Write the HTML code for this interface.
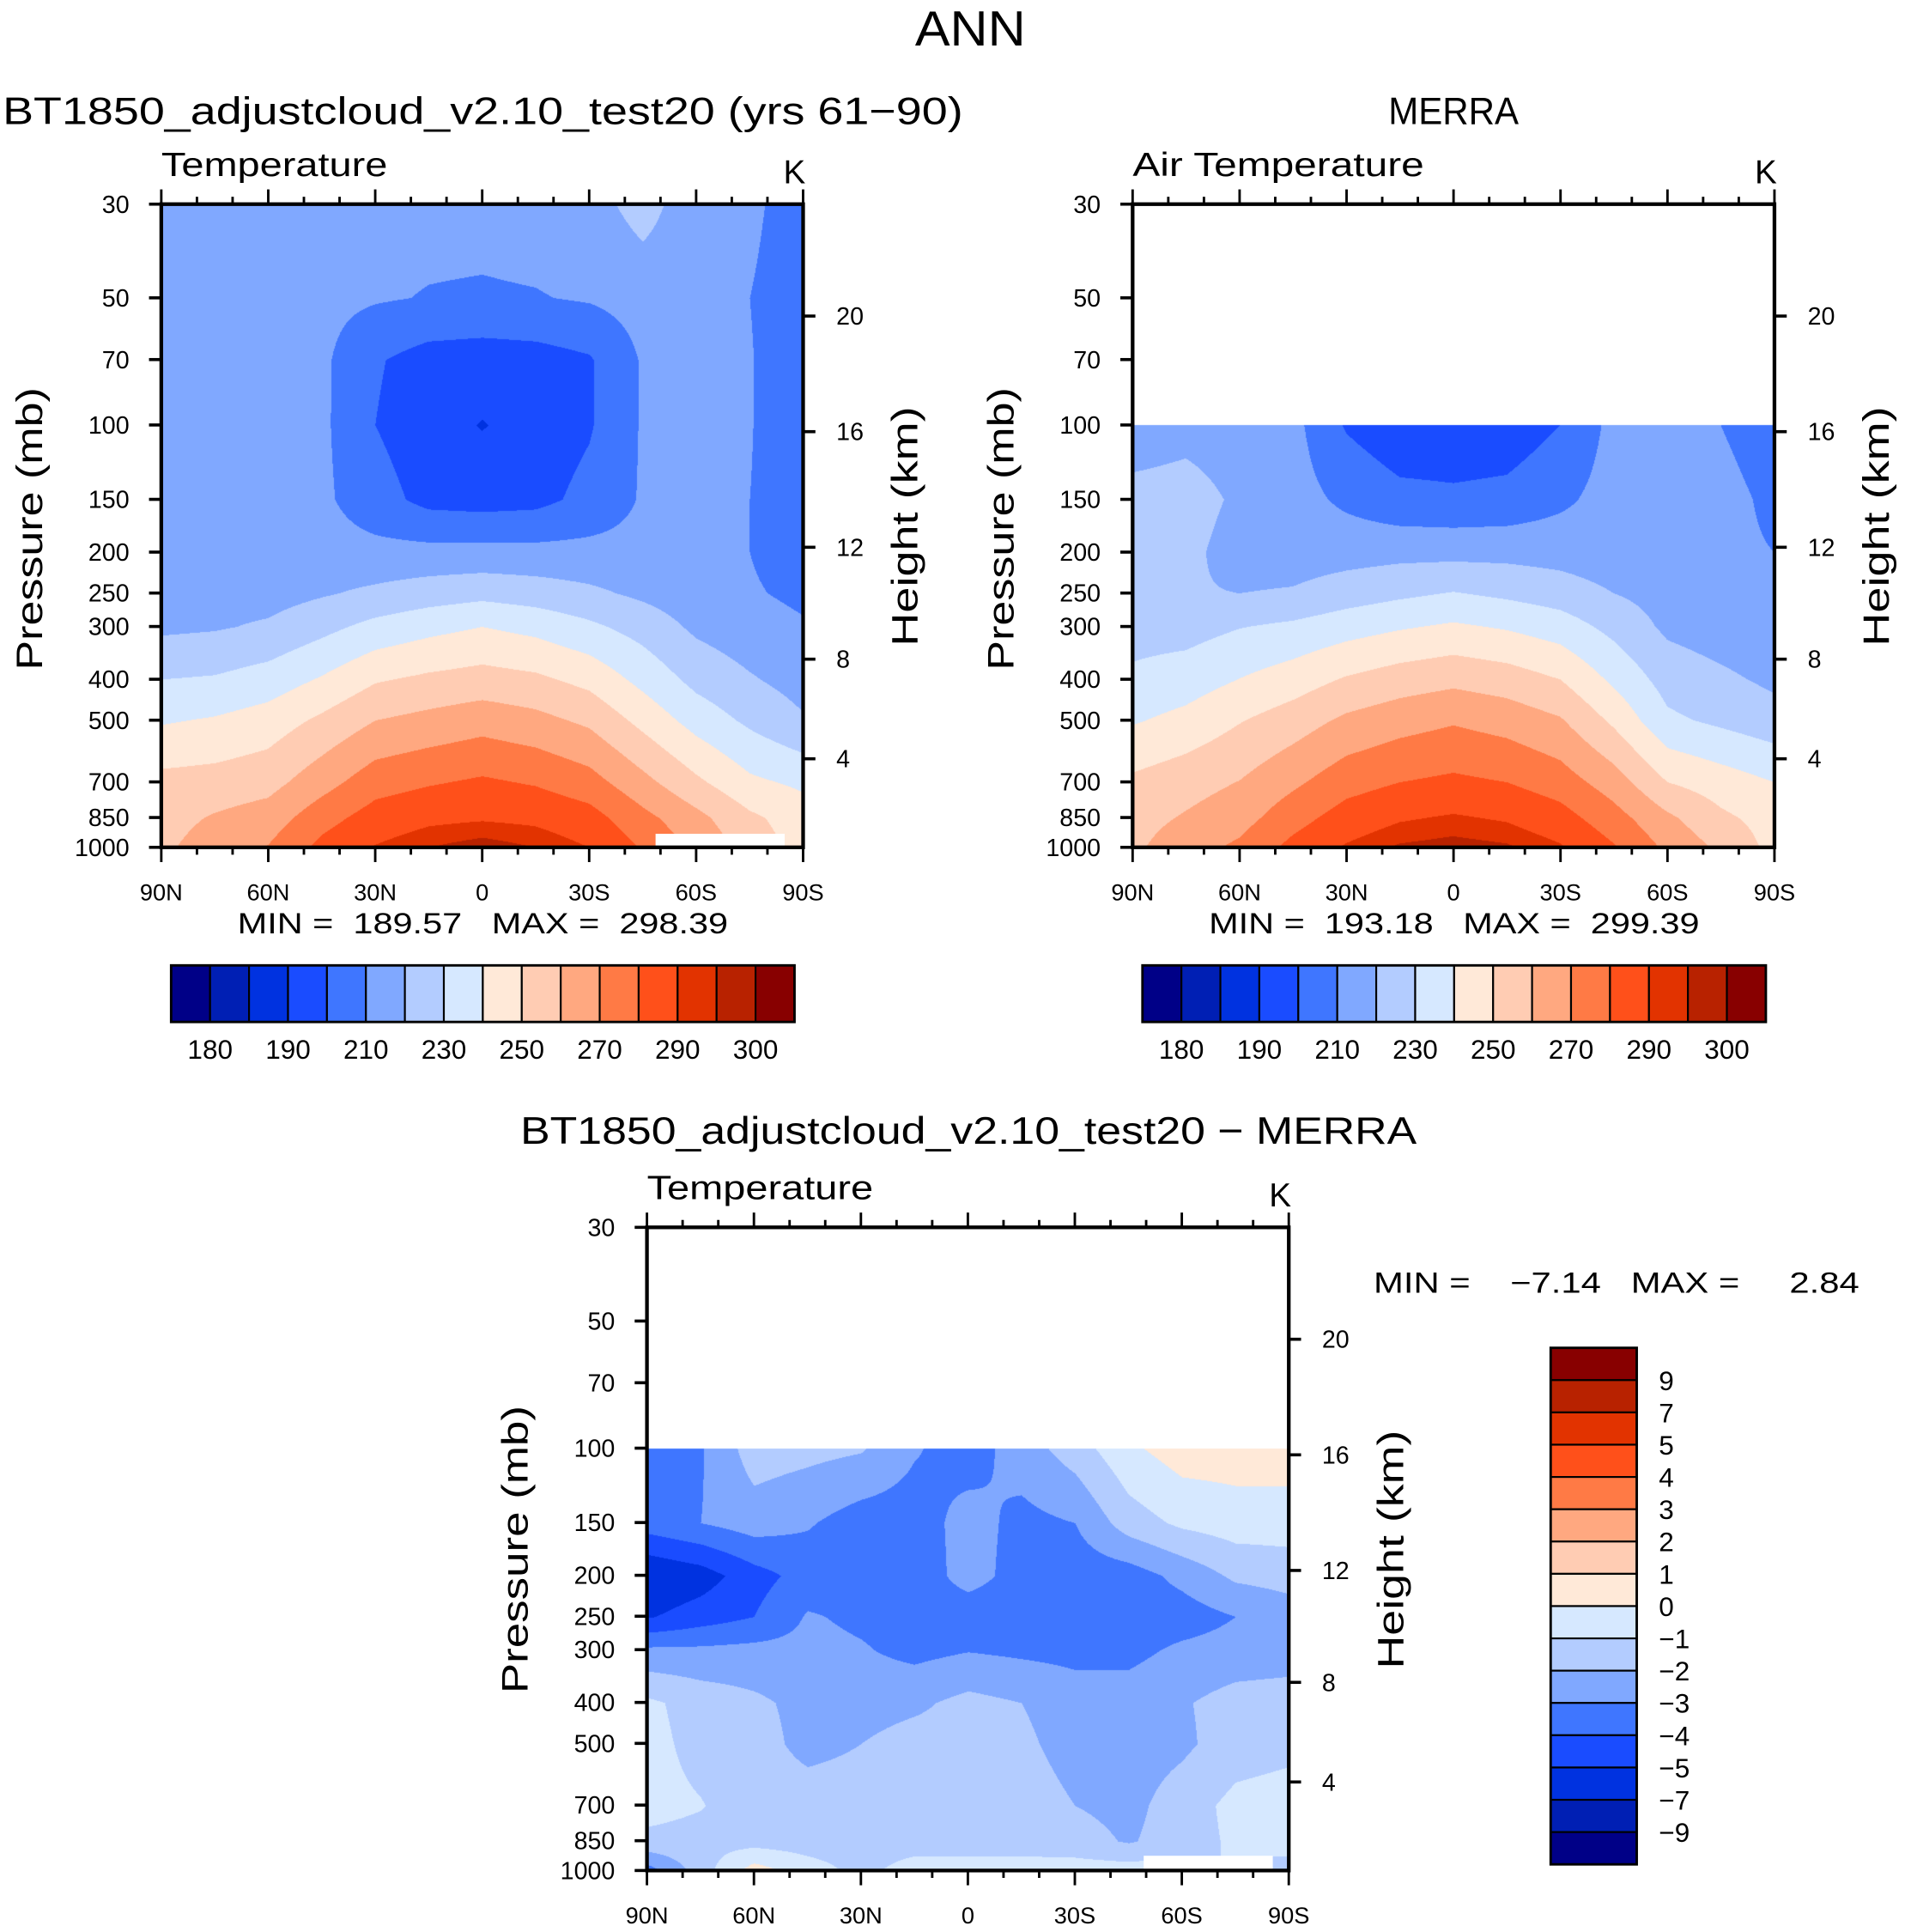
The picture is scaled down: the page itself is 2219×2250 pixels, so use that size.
<!DOCTYPE html>
<html><head><meta charset="utf-8">
<style>
html,body{margin:0;padding:0;background:#fff;}
#root{position:relative;width:2219px;height:2250px;overflow:hidden;background:#fff;}
#root svg{position:absolute;left:0;top:0;}
canvas{position:absolute;}
text{font-family:"Liberation Sans",sans-serif;fill:#000;white-space:pre;}
</style></head>
<body>
<div id="root">
<canvas id="c1"></canvas>
<canvas id="c2"></canvas>
<canvas id="c3"></canvas>
<svg id="sv" width="2219" height="2250" viewBox="0 0 1549 1571"></svg>
</div>
<script>
// ---- data ----
const lats = [90,75,60,45,30,15,0,-15,-30,-45,-60,-75,-90];
const pressLevels = [30,50,70,100,150,200,250,300,400,500,700,850,1000];
const pressLevelsObs = [100,150,200,250,300,400,500,700,850,1000];
const modelT = [
[215,217,215,214,213,213,213,214,216,224,214,212,205],
[215,214,213,213,211,209.5,209,209.5,211,214,214,210,205],
[215,213,213,212,201,196,195,196,199,211,212,210.5,204],
[214,213,213,212,200,194,189.5,194,199,211,212,210.5,203],
[215,214,213,212,204,197,196,197,203,211,213,210,205],
[216,215,214,214,213,213,213,213,213,213,214,210,205],
[216,216,216,219,222,225,227,225,222,218,214,211,208],
[218,219,221.4,227,233,237,240,237,232,226,218,214,211],
[230,231,234.5,241,249,252,254,252,247,237,227,221,216],
[239,241,244.6,252,260,263,266,263,258,247,236,228,221],
[253,254,256.4,266,275.7,279,281.5,279,274,263,252,242,238],
[256,261,264.7,276,284.5,288,289,288,284,273,263,252,245],
[258,265,270.6,283,290.6,295,298,295,290,279,268,256,246]];
const merraT = [
[213,216,214,213,199,193,193,194,200,213,213,210,205],
[224,225,218,214,208,203,202,203,208,214,214,213,208],
[225,223,215,215,216,217,217,217,216,214,213,212,210],
[224,221,220,221,225,228,230.5,228,225,220,216,213,211],
[226,226,229.6,232,235.8,239,241.5,239,235,227,218,215,213],
[232,235,240.2,245,251,255,257.5,255,250,238,226,222,218],
[239,243,249.4,255,262,266,269,266,261,248,232,228,224],
[252,256,260.3,268,276,280,282,280,275,265,250,245,240],
[256,261,266,276,284.5,289,291,289,284,274,262,252,246],
[258,266,272,283,291,296,297.5,296,291,281,268,258,247]];
const diffT = [
[-3.5,-3.1,-1.5,-1.7,-1.9,-2.9,-3.5,-2.5,-1.5,-0.2,0.5,0.5,0.5],
[-3.5,-3.0,-2.5,-2.9,-3.5,-3.5,-2.6,-3.3,-3.0,-1.5,-0.8,-0.5,-0.5],
[-6,-5.5,-4.4,-3.6,-3.6,-3.6,-2.6,-3.4,-3.6,-3.5,-2.7,-1.8,-1.6],
[-5.1,-4.5,-4.0,-2.9,-3.2,-3.5,-3.6,-3.6,-3.6,-3.6,-3.5,-3.0,-2.5],
[-2.8,-2.8,-2.7,-2.7,-2.9,-3.3,-3.05,-3.2,-3.3,-3.3,-2.8,-2.6,-2.5],
[-0.8,-1.4,-1.8,-2.3,-2.4,-2.2,-1.7,-2.0,-2.5,-2.5,-2.1,-1.6,-1.5],
[-0.7,-1.3,-1.6,-2.3,-2.0,-1.6,-1.6,-1.8,-2.4,-2.5,-2.2,-1.5,-1.3],
[-0.7,-0.95,-1.5,-1.5,-1.5,-1.5,-1.5,-1.5,-2.0,-2.3,-1.5,-0.7,-0.5],
[-1.2,-1.3,-1.4,-1.5,-1.5,-1.5,-1.5,-1.5,-1.6,-2.1,-1.5,-0.8,-0.8],
[-3.5,-1.5,0.5,-0.5,-1.3,-0.5,-0.5,-0.5,-0.5,-0.5,-0.5,-1.2,-1.2]];
const tempLevels = [180,185,190,200,210,220,230,240,250,260,270,280,290,295,300];
const tempLabels = ["180","190","210","230","250","270","290","300"];
const diffLevels = [-9,-7,-5,-4,-3,-2,-1,0,1,2,3,4,5,7,9];
const diffLabels = ["9","7","5","4","3","2","1","0","\u22121","\u22122","\u22123","\u22124","\u22125","\u22127","\u22129"];
const palette = ["#000087","#001fb4","#0032e0","#1a4cff","#3f76ff","#80a8ff","#b3ccff","#d6e8ff","#ffe9d8","#ffccb3","#ffa880","#ff7a45","#ff501a","#e23300","#b82200","#880000"];
const pTicks = [30,50,70,100,150,200,250,300,400,500,700,850,1000];
const latTicks = [90,60,30,0,-30,-60,-90];
const latTickLabels = ["90N","60N","30N","0","30S","60S","90S"];
const hTicks = [20,16,12,8,4];
const hTickOffsets = [91,185,279,370,451]; // axis geometry of height scale

// ---- geometry ----
const S = 2219/1549;
const BW = 522, BH = 523;
const NS = "http://www.w3.org/2000/svg";
const sv = document.getElementById('sv');
function yOfP(p, top){ return top + BH*Math.log10(p/30)/Math.log10(1000/30); }
function xOfLat(l, left){ return left + BW*(90-l)/180; }
function el(tag, attrs, parent){ const e=document.createElementNS(NS,tag); for(const k in attrs) e.setAttribute(k,attrs[k]); (parent||sv).appendChild(e); return e; }
function txt(x,y,s,size,anchor,name,extra){ const t=el('text',Object.assign({x:x,y:y,'font-size':size,'text-anchor':anchor||'start'},extra||{})); t.textContent=s;
 
 
 return t; }

function bandIndex(v, levels){ let i=0; while(i<levels.length && v>=levels[i]) i++; return i; }
function hexToRgb(h){ return [parseInt(h.substr(1,2),16),parseInt(h.substr(3,2),16),parseInt(h.substr(5,2),16)]; }
const palRgb = palette.map(hexToRgb);

function drawField(id, left, top, rows, plevs, levels){
  const c=document.getElementById(id);
  const W=Math.round(BW*S), H=Math.round(BH*S);
  c.width=W; c.height=H;
  c.style.left=(left*S)+'px'; c.style.top=(top*S)+'px';
  c.style.width=W+'px'; c.style.height=H+'px';
  const ctx=c.getContext('2d');
  const img=ctx.createImageData(W,H);
  const lp=plevs.map(p=>Math.log10(p));
  for(let py=0;py<H;py++){
    const yy=(py+0.5)/S;
    const logp=Math.log10(30)+yy/BH*Math.log10(1000/30);
    if(logp<lp[0]-1e-9) continue;
    let r=0; while(r<lp.length-2 && logp>lp[r+1]) r++;
    let fy=(logp-lp[r])/(lp[r+1]-lp[r]); fy=Math.max(0,Math.min(1,fy));
    for(let px=0;px<W;px++){
      const xx=(px+0.5)/S;
      const lat=90-xx/BW*180;
      let ci=(90-lat)/15; let c0=Math.min(lats.length-2,Math.floor(ci)); let fx=ci-c0;
      const v=(rows[r][c0]*(1-fx)+rows[r][c0+1]*fx)*(1-fy)+(rows[r+1][c0]*(1-fx)+rows[r+1][c0+1]*fx)*fy;
      const col=palRgb[bandIndex(v,levels)];
      const k=(py*W+px)*4;
      img.data[k]=col[0];img.data[k+1]=col[1];img.data[k+2]=col[2];img.data[k+3]=255;
    }
  }
  ctx.putImageData(img,0,0);
}

function axes(left, top, pfx, pLabelX, hLabelX){
  const g=el('g',{});
  
  
  for(let l=90;l>=-90;l-=10){
    const x=xOfLat(l,left); const major=(l%30===0);
    const len=major?12:6;
    el('line',{x1:x,y1:top,x2:x,y2:top-len,stroke:'#000','stroke-width':2},g);
    el('line',{x1:x,y1:top+BH,x2:x,y2:top+BH+len,stroke:'#000','stroke-width':2},g);
  }
  latTicks.forEach((l,i)=>{ txt(xOfLat(l,left), top+BH+43, latTickLabels[i], 19, 'middle', pfx+'-x-tick-label'); });
  pTicks.forEach(p=>{ const y=yOfP(p,top);
    el('line',{x1:left,y1:y,x2:left-10,y2:y,stroke:'#000','stroke-width':2.5},g);
    txt(pLabelX, y+7, String(p), 20, 'end', pfx+'-y-tick-label'); });
  hTicks.forEach((h,i)=>{ const y=top+hTickOffsets[i];
    el('line',{x1:left+BW,y1:y,x2:left+BW+10,y2:y,stroke:'#000','stroke-width':2.5},g);
    txt(hLabelX, y+7, String(h), 20, 'start', pfx+'-height-tick-label'); });
  el('rect',{x:left,y:top,width:BW,height:BH,fill:'none',stroke:'#000','stroke-width':3},g);
}

function hColorbar(x0,y0,w,h,pfx){
  const bw=w/16;
  palette.forEach((c,i)=>{ const r=el('rect',{x:x0+i*bw,y:y0,width:bw,height:h,fill:c,stroke:'#000','stroke-width':1.5});
    
     });
  el('rect',{x:x0,y:y0,width:w,height:h,fill:'none',stroke:'#000','stroke-width':2});
  tempLabels.forEach((s)=>{ const idx=tempLevels.indexOf(+s)+1; txt(x0+idx*bw, y0+h+30, s, 22, 'middle', pfx+'-colorbar-label'); });
}

drawField('c1',131,166,modelT,pressLevels,tempLevels);
drawField('c2',921,166,merraT,pressLevelsObs,tempLevels);
drawField('c3',526,998,diffT,pressLevelsObs,diffLevels);

// missing-data patches
el('rect',{x:533,y:678,width:105,height:11,fill:'#fff'});
el('rect',{x:930,y:1509,width:105,height:12,fill:'#fff'});

const SA = {lengthAdjust:'spacingAndGlyphs'};
txt(744,37,'ANN',40,'start','figure-title',Object.assign({textLength:90},SA));
txt(2,101,'BT1850_adjustcloud_v2.10_test20 (yrs 61\u221290)',31,'start','panel1-title',Object.assign({textLength:781},SA));
txt(1129,101,'MERRA',31,'start','panel2-title',Object.assign({textLength:106},SA));
txt(131,143,'Temperature',27,'start','panel1-variable',Object.assign({textLength:184},SA));
txt(646,149,'K',27,'middle','panel1-units');
txt(921,143,'Air Temperature',27,'start','panel2-variable',Object.assign({textLength:237},SA));
txt(1436,149,'K',27,'middle','panel2-units');
txt(423,930,'BT1850_adjustcloud_v2.10_test20 \u2212 MERRA',31,'start','panel3-title',Object.assign({textLength:729},SA));
txt(526,975,'Temperature',27,'start','panel3-variable',Object.assign({textLength:184},SA));
txt(1041,981,'K',27,'middle','panel3-units');

axes(131,166,'panel1',105,680);
axes(921,166,'panel2',895,1470);
axes(526,998,'panel3',500,1075);

function rot(x,y,s,len,name){ txt(x,y,s,30,'middle',name,Object.assign({transform:'rotate(-90 '+x+' '+y+')',textLength:len},SA)); }
rot(34,430,'Pressure (mb)',230,'panel1-y-axis-title');
rot(746,428,'Height (km)',195,'panel1-height-axis-title');
rot(824,430,'Pressure (mb)',230,'panel2-y-axis-title');
rot(1536,428,'Height (km)',195,'panel2-height-axis-title');
rot(429,1260,'Pressure (mb)',234,'panel3-y-axis-title');
rot(1141,1260,'Height (km)',194,'panel3-height-axis-title');

txt(193,759,'MIN =  189.57   MAX =  298.39',24,'start','panel1-min-max',Object.assign({textLength:399},SA));
txt(983,759,'MIN =  193.18   MAX =  299.39',24,'start','panel2-min-max',Object.assign({textLength:399},SA));
txt(1117,1051,'MIN =    \u22127.14   MAX =     2.84',24,'start','panel3-min-max',Object.assign({textLength:395},SA));

hColorbar(139,785,507,46,'panel1');
hColorbar(929,785,507,46,'panel2');

(function(){
  const x0=1261,y0=1096,w=70,h=420,bh=h/16;
  for(let i=0;i<16;i++){ const r=el('rect',{x:x0,y:y0+i*bh,width:w,height:bh,fill:palette[15-i],stroke:'#000','stroke-width':1.5});
    
     }
  el('rect',{x:x0,y:y0,width:w,height:h,fill:'none',stroke:'#000','stroke-width':2});
  diffLabels.forEach((s,i)=>{ txt(x0+w+18, y0+(i+1)*bh+8, s, 22, 'start', 'panel3-colorbar-label'); });
})();
</script>
</body></html>
